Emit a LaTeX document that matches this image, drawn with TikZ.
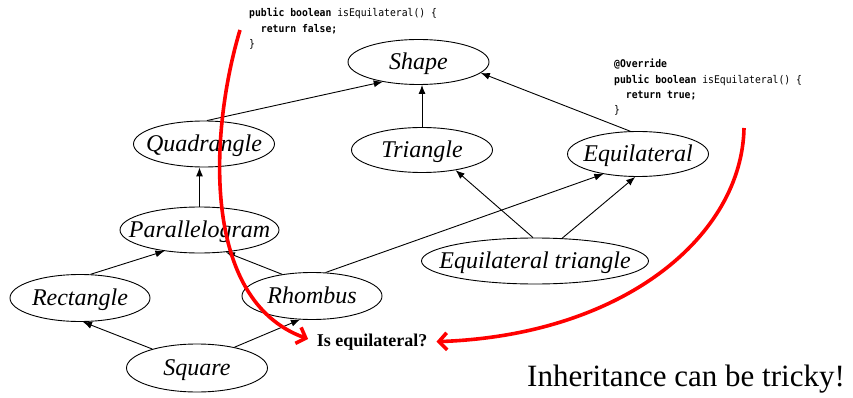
\documentclass[tikz,border=0pt]{standalone}
\usepackage{fontspec}
\setmainfont{Liberation Serif}
\newfontfamily\codefont[FakeStretch=0.92]{DejaVu Sans Mono}
\usetikzlibrary{arrows.meta,shapes.geometric}

\begin{document}
\begin{tikzpicture}[
    x=1pt, y=-1pt,
    cls/.style={draw, ellipse, line width=0.9pt, inner xsep=-30pt, inner ysep=-12pt, minimum width=141pt, minimum height=45pt, font=\fontsize{24}{26}\selectfont\itshape, text height=15.5pt, text depth=0pt},
    isa/.style={-{Latex[length=9pt,width=7pt]}, line width=0.9pt},
    snippet/.style={anchor=north west, align=left, inner sep=0pt, font=\codefont\fontsize{10.6}{15.3}\selectfont},
    redarr/.style={-{Straight Barb[length=8pt,width=17pt]}, red, line width=3.6pt, shorten >=9pt}
]
\useasboundingbox (0,0) rectangle (853,398);

\node[cls] (shape) at (418.5,62) {Shape};
\node[cls, minimum height=46pt] (quad) at (204,144) {Quadrangle};
\node[cls] (tri) at (422,150) {Triangle};
\node[cls] (equi) at (638,154) {Equilateral};
\node[cls, minimum width=159pt, minimum height=46pt] (par) at (199.5,230) {Parallelogram};
\node[cls, minimum width=140pt, minimum height=47pt] (rect) at (80,298) {Rectangle};
\node[cls, minimum width=140pt, minimum height=47pt] (rhomb) at (312,296) {Rhombus};
\node[cls, minimum height=48pt] (square) at (197,368) {Square};
\node[cls, minimum width=227pt, minimum height=46pt] (eqtri) at (535,261) {Equilateral triangle};

\node[inner sep=0pt, font=\fontsize{18}{20}\selectfont\bfseries] (q) at (372,342) {Is equilateral?};
\node[font=\fontsize{31}{34}\selectfont] (moral) at (686,379) {Inheritance can be tricky!};

% the two overrides
\node[snippet] (base) at (249,8) {\textbf{public boolean} isEquilateral() \{\\
  \ \ \textbf{return false;}\\
  \}};
\node[snippet] (over) at (614,59) {\textbf{@Override}\\
  \textbf{public boolean} isEquilateral() \{\\
  \ \ \textbf{return true;}\\
  \}};

\draw[isa] (quad.83) -- (shape.209);
\draw[isa] (tri.north) -- (tri.north |- shape.south);
\draw[isa] (equi.109) -- (shape.350);
\draw[isa] (par.north) -- (par.north |- quad.south);
\draw[isa] (rect.66) -- (par.211);
\draw[isa] (rhomb.144) -- (par.320);
\draw[isa] (rhomb.60) -- (equi.210);
\draw[isa] (square.157) -- (rect.277);
\draw[isa] (square.29) -- (rhomb.243);
\draw[isa] (eqtri.95) -- (tri.329);
\draw[isa] (eqtri.40) -- (equi.263);

\coordinate (fromBase) at (240,30);
\coordinate (fromOver) at (744,128);
\draw[redarr] (fromBase) .. controls (210,130) and (200,300) .. (q.west);
\draw[redarr] (fromOver) .. controls (742,235) and (625,335) .. (q.east);
\end{tikzpicture}
\end{document}
